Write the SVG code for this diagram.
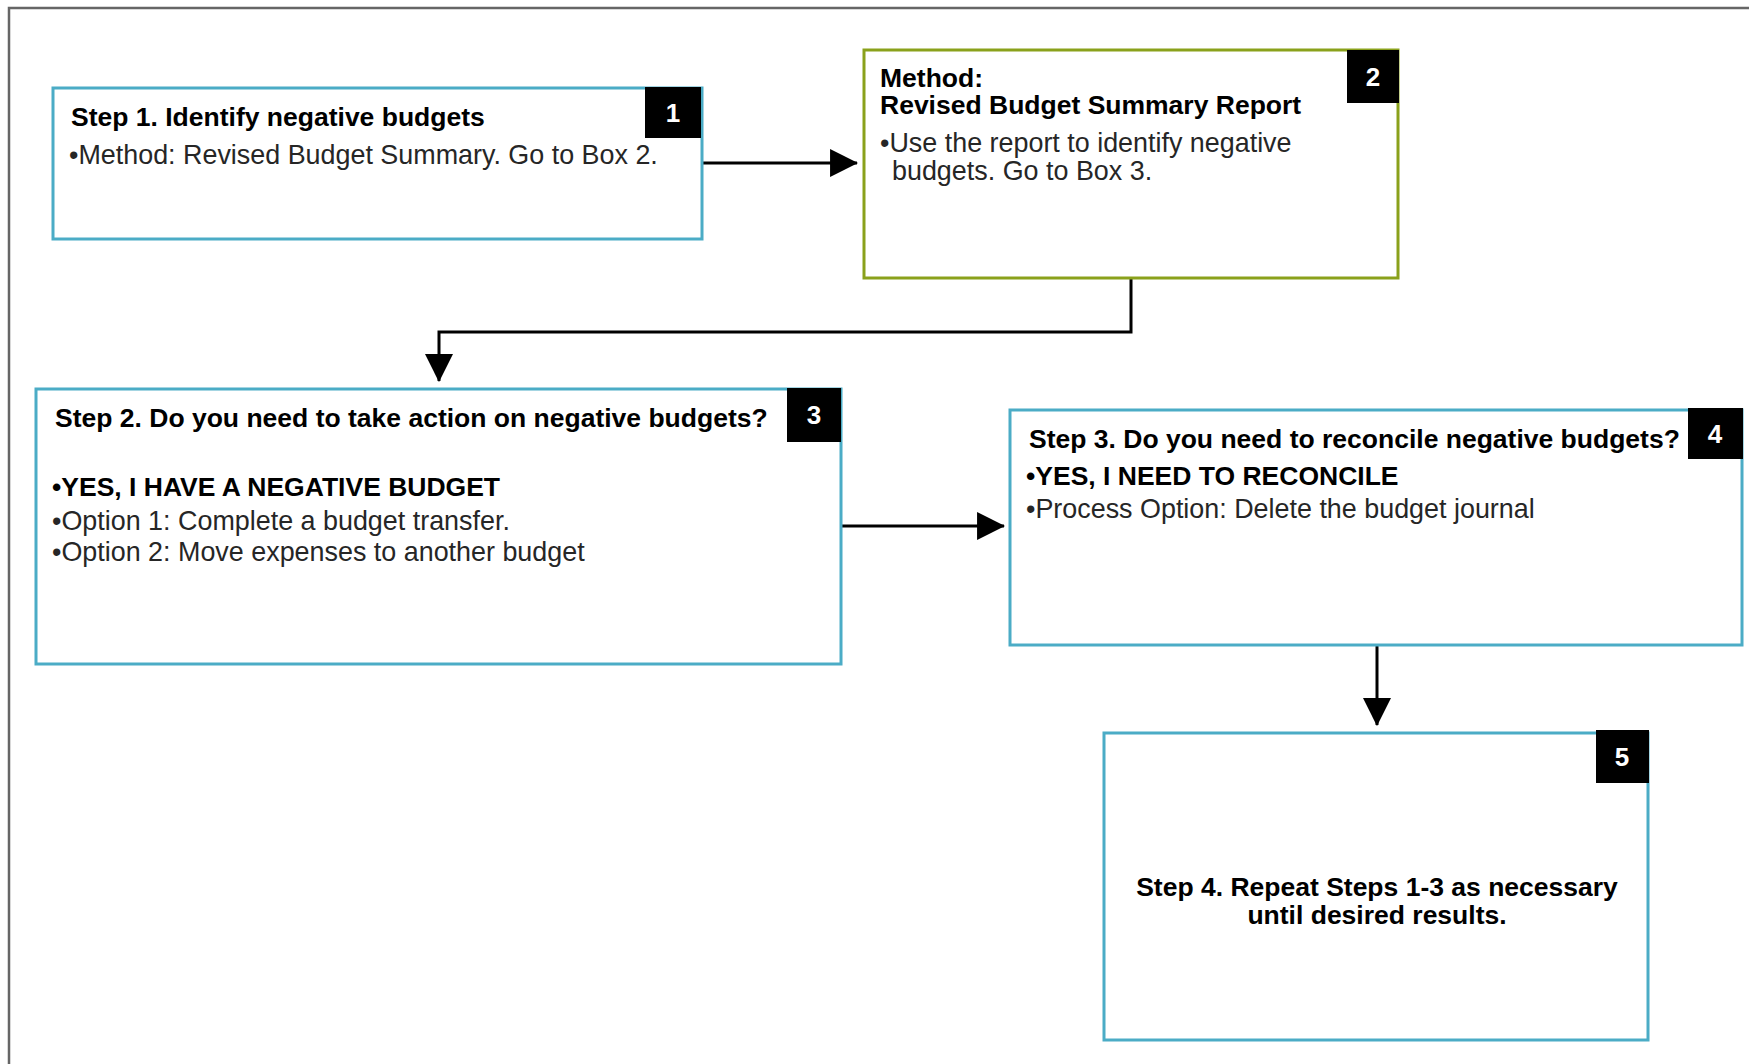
<svg xmlns="http://www.w3.org/2000/svg" width="1749" height="1064" viewBox="0 0 1749 1064">
<defs>
<style>
.box{fill:#fff;stroke:#4bacc6;stroke-width:3}
.boxg{fill:#fff;stroke:#8aa11b;stroke-width:3}
.badge{fill:#000}
.num{font-family:"Liberation Sans",Arial,sans-serif;font-size:26px;font-weight:bold;fill:#fff;text-anchor:middle}
.t{font-family:"Liberation Sans",Arial,sans-serif;font-size:26.5px;font-weight:bold;fill:#000}
.b{font-family:"Liberation Sans",Arial,sans-serif;font-size:26.9px;fill:#262626}
.conn{fill:none;stroke:#000;stroke-width:3}
</style>
<marker id="arr" markerUnits="userSpaceOnUse" markerWidth="28" markerHeight="28" viewBox="0 0 26 26" refX="25" refY="13" orient="auto">
<path d="M0,0 L26,13 L0,26 Z" fill="#000"/>
</marker>
</defs>
<rect x="0" y="0" width="1749" height="1064" fill="#fff"/>
<path d="M9,1070 L9,8 L1760,8" fill="none" stroke="#666" stroke-width="2.5"/>

<g id="connectors">
<path class="conn" d="M703,163 L857,163" marker-end="url(#arr)"/>
<path class="conn" d="M1131,279 L1131,332 L439,332 L439,381" marker-end="url(#arr)"/>
<path class="conn" d="M842,526 L1004,526" marker-end="url(#arr)"/>
<path class="conn" d="M1377,646 L1377,725" marker-end="url(#arr)"/>
</g>

<g id="node1">
<rect class="box" x="53" y="88" width="649" height="151"/>
<rect class="badge" x="645" y="87" width="56" height="51"/>
<text class="num" x="673" y="122">1</text>
<text class="t" x="71" y="126">Step 1. Identify negative budgets</text>
<text class="b" x="69" y="164">•Method: Revised Budget Summary. Go to Box 2.</text>
</g>

<g id="node2">
<rect class="boxg" x="864" y="50" width="534" height="228"/>
<rect class="badge" x="1347" y="50" width="52" height="53"/>
<text class="num" x="1373" y="86">2</text>
<text class="t" x="880" y="87">Method:</text>
<text class="t" x="880" y="114">Revised Budget Summary Report</text>
<text class="b" x="880" y="152">•Use the report to identify negative</text>
<text class="b" x="892" y="180">budgets. Go to Box 3.</text>
</g>

<g id="node3">
<rect class="box" x="36" y="389" width="805" height="275"/>
<rect class="badge" x="787" y="388" width="54" height="54"/>
<text class="num" x="814" y="424">3</text>
<text class="t" x="55" y="427">Step 2. Do you need to take action on negative budgets?</text>
<text class="t" x="52" y="496">•YES, I HAVE A NEGATIVE BUDGET</text>
<text class="b" x="52" y="530">•Option 1: Complete a budget transfer.</text>
<text class="b" x="52" y="561">•Option 2: Move expenses to another budget</text>
</g>

<g id="node4">
<rect class="box" x="1010" y="410" width="732" height="235"/>
<rect class="badge" x="1688" y="408" width="55" height="51"/>
<text class="num" x="1715" y="443">4</text>
<text class="t" x="1029" y="448">Step 3. Do you need to reconcile negative budgets?</text>
<text class="t" x="1026" y="485">•YES, I NEED TO RECONCILE</text>
<text class="b" x="1026" y="518">•Process Option: Delete the budget journal</text>
</g>

<g id="node5">
<rect class="box" x="1104" y="733" width="544" height="307"/>
<rect class="badge" x="1596" y="730" width="53" height="53"/>
<text class="num" x="1622" y="766">5</text>
<text class="t" x="1377" y="896" text-anchor="middle">Step 4. Repeat Steps 1-3 as necessary</text>
<text class="t" x="1377" y="924" text-anchor="middle">until desired results.</text>
</g>
</svg>
